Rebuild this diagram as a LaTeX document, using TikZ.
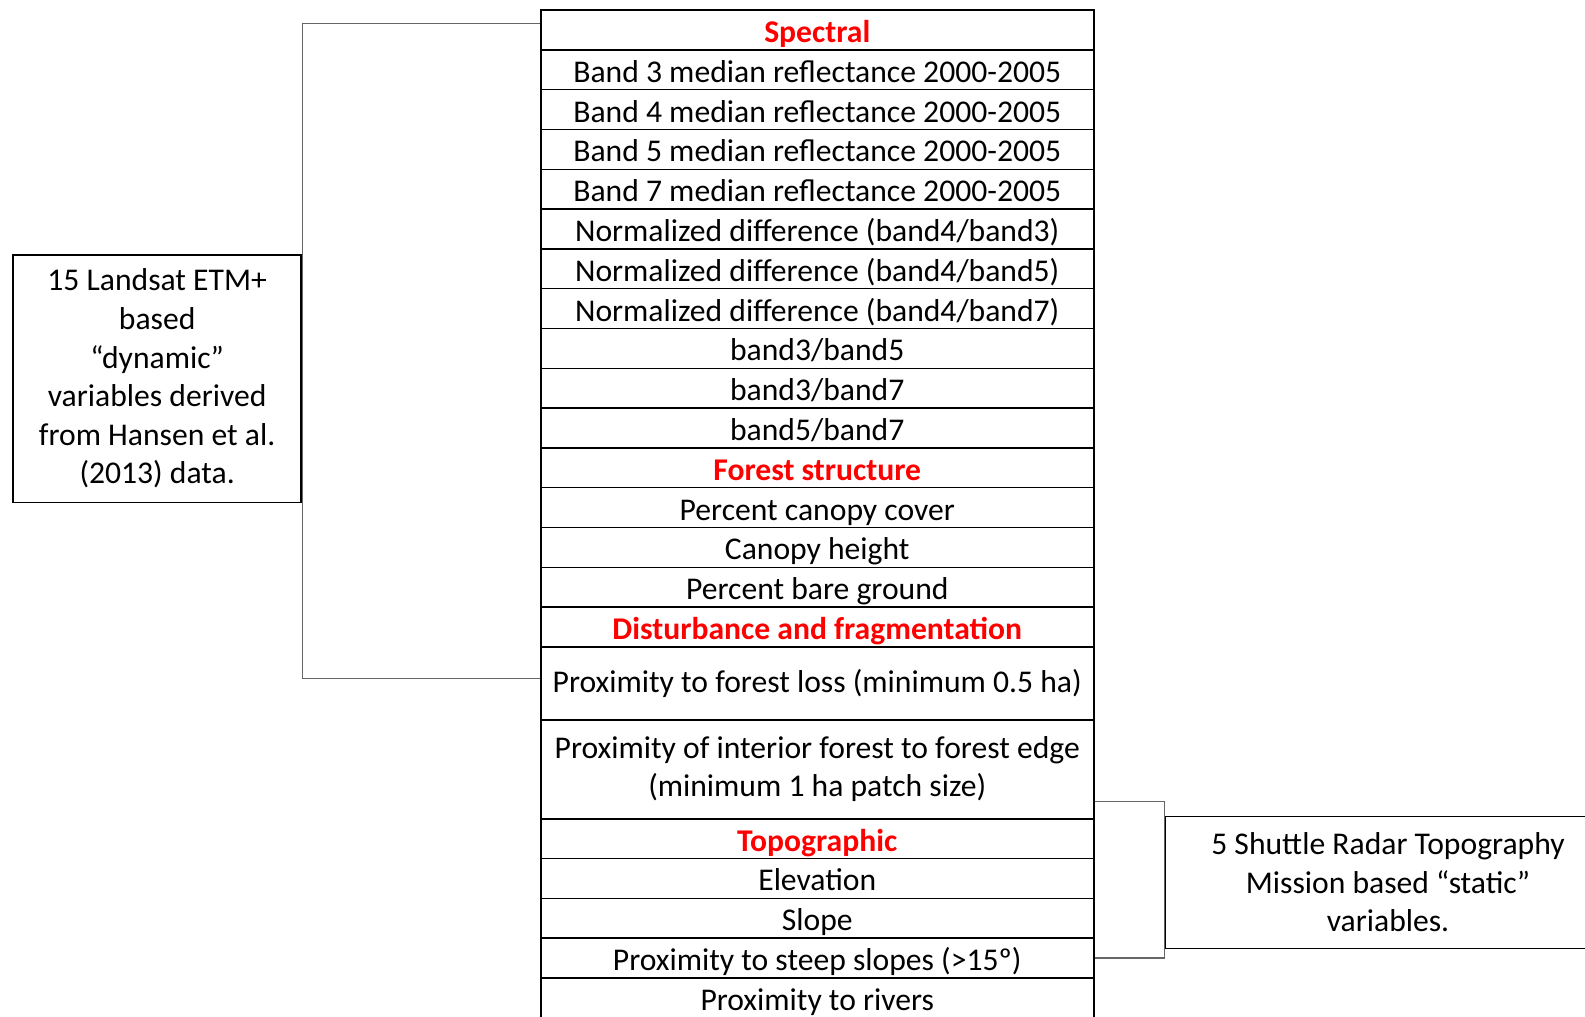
\documentclass[tikz,border=0pt]{standalone}
\usepackage{fontspec}
\setmainfont{Carlito}
\usetikzlibrary{positioning}

\begin{document}
\begin{tikzpicture}[font=\fontsize{18}{22}\selectfont]
\tikzstyle{row}=[draw,line width=0.9pt,minimum width=11.06cm,minimum height=0.796cm,inner sep=0pt,align=center,text height=0.646cm,text depth=0.15cm]
\tikzstyle{head}=[row,text=red,font=\fontsize{18}{22}\selectfont\bfseries]
\tikzstyle{tall}=[row,text height=,text depth=]
\tikzstyle{info}=[draw,line width=0.8pt,align=center,inner sep=0pt]
\tikzstyle{bracket}=[draw=gray!80!black,line width=0.6pt]
\useasboundingbox (0,0) rectangle (31.7,-20.32);
% spectral
\node[head] (sp) at (16.345,-0.600) {Spectral};
\node[row] (b3) at (16.345,-1.396) {Band 3 median reflectance 2000-2005};
\node[row] (b4) at (16.345,-2.192) {Band 4 median reflectance 2000-2005};
\node[row] (b5) at (16.345,-2.988) {Band 5 median reflectance 2000-2005};
\node[row] (b7) at (16.345,-3.784) {Band 7 median reflectance 2000-2005};
\node[row] (nd3) at (16.345,-4.580) {Normalized difference (band4/band3)};
\node[row] (nd5) at (16.345,-5.376) {Normalized difference (band4/band5)};
\node[row] (nd7) at (16.345,-6.172) {Normalized difference (band4/band7)};
\node[row] (r35) at (16.345,-6.968) {band3/band5};
\node[row] (r37) at (16.345,-7.764) {band3/band7};
\node[row] (r57) at (16.345,-8.560) {band5/band7};
% forest structure
\node[head] (fs) at (16.345,-9.356) {Forest structure};
\node[row] (pc) at (16.345,-10.152) {Percent canopy cover};
\node[row] (ch) at (16.345,-10.948) {Canopy height};
\node[row] (pb) at (16.345,-11.744) {Percent bare ground};
% disturbance
\node[head] (df) at (16.345,-12.540) {Disturbance and fragmentation};
\node[tall,minimum height=1.456cm] (pl) at (16.345,-13.666) {Proximity to forest loss (minimum 0.5 ha)};
\node[tall,minimum height=1.98cm] (pi) at (16.345,-15.384) {Proximity of interior forest to forest edge\\ (minimum 1 ha patch size)};
% topographic
\node[head] (tp) at (16.345,-16.772) {Topographic};
\node[row] (el) at (16.345,-17.568) {Elevation};
\node[row] (sl) at (16.345,-18.364) {Slope};
\node[row] (ps) at (16.345,-19.160) {Proximity to steep slopes (>15º)};
\node[row] (pr) at (16.345,-19.956) {Proximity to rivers};
% side boxes
\node[info,minimum width=5.762cm,minimum height=4.954cm,line width=1pt] (lb) at (3.143,-7.571) {15 Landsat ETM+\\ based\\ “dynamic”\\ variables derived\\ from Hansen et al.\\ (2013) data.};
\node[info,minimum width=8.9cm,minimum height=2.63cm] (rb) at (27.76,-17.649) {5 Shuttle Radar Topography\\ Mission based “static”\\ variables.};
\draw[bracket] ([yshift=0.136cm]sp.west) -| (lb.north east) -- (lb.south east) |- ([yshift=0.1cm]pl.west);
\draw[bracket] ([yshift=-0.648cm]pi.east) -| (rb.north west) -- (rb.south west) |- (ps.east);
\end{tikzpicture}
\end{document}
